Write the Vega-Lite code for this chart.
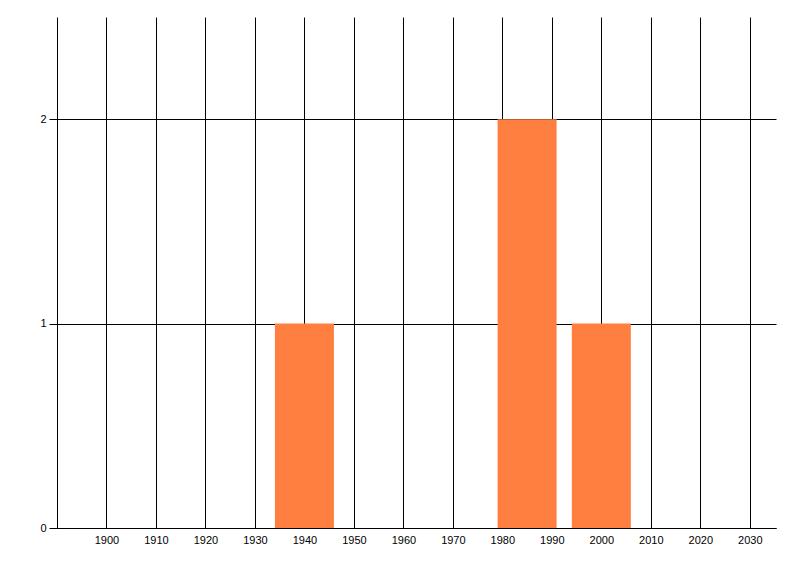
{
  "$schema": "https://vega.github.io/schema/vega-lite/v6.json",
  "width": 719,
  "height": 511,
  "autosize": {"type": "none"},
  "padding": {"left": 57, "top": 17, "right": 24, "bottom": 48},
  "background": "white",
  "config": {
    "view": {"stroke": null},
    "axis": {
      "labelFont": "Liberation Sans",
      "labelFontSize": 11,
      "labelColor": "#000000",
      "domainColor": "#000000",
      "domainWidth": 1,
      "gridColor": "#000000",
      "gridOpacity": 1,
      "gridWidth": 1,
      "tickColor": "#000000",
      "title": null
    }
  },
  "data": {
    "values": [
      {"year": 1940, "count": 1},
      {"year": 1985, "count": 2},
      {"year": 2000, "count": 1}
    ]
  },
  "mark": {"type": "bar", "size": 59, "color": "#FF7F40"},
  "encoding": {
    "x": {
      "field": "year",
      "type": "quantitative",
      "scale": {"domain": [1890, 2035.3], "nice": false, "zero": false, "padding": 0},
      "axis": {
        "values": [1900, 1910, 1920, 1930, 1940, 1950, 1960, 1970, 1980, 1990, 2000, 2010, 2020, 2030],
        "format": "d",
        "grid": true,
        "ticks": false,
        "labelPadding": 6
      }
    },
    "y": {
      "field": "count",
      "type": "quantitative",
      "scale": {"domain": [0, 2.5], "nice": false},
      "axis": {
        "values": [0, 1, 2],
        "format": "d",
        "grid": true,
        "ticks": true,
        "tickSize": 8,
        "labelPadding": 3
      }
    }
  }
}
